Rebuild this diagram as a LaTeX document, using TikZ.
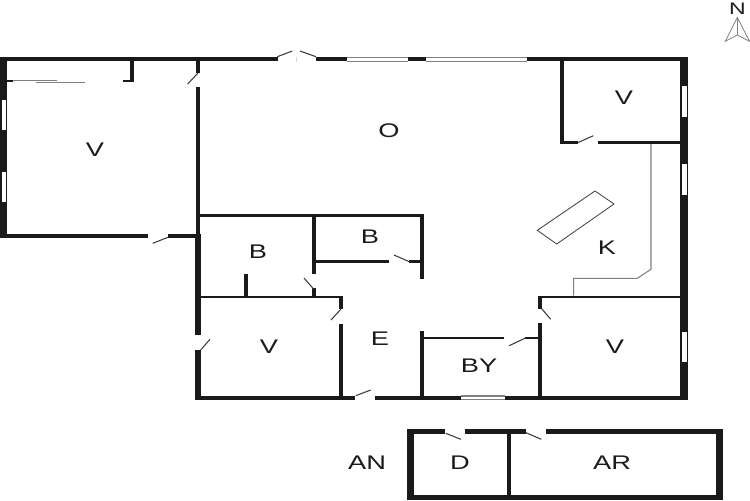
\documentclass[tikz,border=0pt]{standalone}
\usepackage{fontspec}
\setmainfont[FakeStretch=1.38]{Liberation Sans}

\tikzset{every picture/.style={line width=0.75pt}}
\tikzset{wall/.style={fill=wallblack,draw=none}}
\tikzset{pane/.style={fill=white,draw=none}}
\tikzset{swing/.style={draw=wallblack!85!white,line width=0.8pt}}
\tikzset{fixture/.style={draw=black!50,line width=0.8pt}}
\tikzset{roomlabel/.style={inner sep=0.75pt,font=\fontsize{14.8}{15}\selectfont,text=wallblack}}
\definecolor{wallblack}{HTML}{1A1A1A}

\begin{document}
\begin{tikzpicture}[x=0.75pt,y=0.75pt,yscale=-1,xscale=1]

\useasboundingbox (0,0) rectangle (750,500);

% outer walls
\fill [wall] (0,57) rectangle (277.5,61.3);
\fill [wall] (316,57) rectangle (687.7,61.3);
\fill [wall] (0,57) rectangle (7.3,238);
\fill [wall] (680,57) rectangle (687.7,400);
\fill [wall] (7,233.6) rectangle (148,238);
\fill [wall] (168,233.6) rectangle (196,238);
\fill [wall] (195.7,57) rectangle (200,73);
\fill [wall] (195.7,87.3) rectangle (200,234);
\fill [wall] (195,233.6) rectangle (201,335.3);
\fill [wall] (195,350) rectangle (201,400);
\fill [wall] (195,395.7) rectangle (355,400);
\fill [wall] (375,395.7) rectangle (687.7,400);

% inner walls
\fill [wall] (130,61) rectangle (134,82);
\fill [wall] (122.7,79.5) rectangle (134,82);
\fill [wall] (7,79.5) rectangle (13,82);
\fill [wall] (560,61) rectangle (564,144);
\fill [wall] (560,141.3) rectangle (577.7,144);
\fill [wall] (597.7,141.3) rectangle (680,144);
\fill [wall] (200,214) rectangle (424,216.7);
\fill [wall] (420,214) rectangle (424,279.3);
\fill [wall] (312,216) rectangle (316,274);
\fill [wall] (312,288.3) rectangle (316,296);
\fill [wall] (316,260.3) rectangle (389.3,263);
\fill [wall] (409.3,260.3) rectangle (420,263);
\fill [wall] (201,295.7) rectangle (343,298.3);
\fill [wall] (244,274.3) rectangle (248,296);
\fill [wall] (339,296) rectangle (343,309.3);
\fill [wall] (339,323.7) rectangle (343,397);
\fill [wall] (420,330.7) rectangle (424,397);
\fill [wall] (424,336.7) rectangle (504.3,339.3);
\fill [wall] (525,336.7) rectangle (540,339.3);
\fill [wall] (538.3,296) rectangle (542.3,308.7);
\fill [wall] (538.3,323.3) rectangle (542.3,397);
\fill [wall] (538.3,295.7) rectangle (680,298.3);

% annex
\fill [wall] (407.3,429) rectangle (445.3,433.7);
\fill [wall] (465.3,429) rectangle (526,433.7);
\fill [wall] (545.7,429) rectangle (723.3,433.7);
\fill [wall] (407.3,495) rectangle (723.3,500);
\fill [wall] (407.3,429) rectangle (414,500);
\fill [wall] (715.7,429) rectangle (723.3,500);
\fill [wall] (507.3,430) rectangle (511,496);

% windows
\fill [pane] (1.5,100) rectangle (6,130);
\fill [pane] (1.5,172) rectangle (6,202);
\fill [pane] (682.3,86) rectangle (686.7,116.7);
\fill [pane] (682.3,164.3) rectangle (686.7,195);
\fill [pane] (682.3,331.7) rectangle (686.7,361.7);
\fill [pane] (347.3,57) rectangle (408.3,61.3);
\fill [pane] (425.7,57) rectangle (526.7,61.3);
\fill [pane] (461,395.7) rectangle (505,400);
\draw [fixture] (347.3,57.2) -- (408.3,57.2);
\draw [fixture] (347.3,61.1) -- (408.3,61.1);
\draw [fixture] (425.7,57.2) -- (526.7,57.2);
\draw [fixture] (425.7,61.1) -- (526.7,61.1);
\draw [fixture] (461,396) -- (505,396);
\draw [fixture] (461,399.8) -- (505,399.8);

% doors
\draw [swing] (277.3,56.7) -- (292.3,51);
\draw [swing] (316,56.7) -- (300,51);
\draw [black!15,line width=0.4pt] (296.7,57) -- (296.7,62);
\draw [swing] (187.7,84) -- (198,73);
\draw [swing] (152.7,243.3) -- (168,237.3);
\draw [swing] (577.7,142.7) -- (593.3,135.7);
\draw [swing] (394,255) -- (409.3,261.7);
\draw [swing] (304,278) -- (313.3,288.7);
\draw [swing] (331,320) -- (340.7,309.3);
\draw [swing] (200.7,350) -- (210,339.3);
\draw [swing] (355.7,395.7) -- (370.7,390);
\draw [swing] (509,345.7) -- (525,338.3);
\draw [swing] (550.7,319.3) -- (541.7,308.7);
\draw [swing] (445.7,433.3) -- (461,439.3);
\draw [swing] (526,432.7) -- (541.3,439.3);

% sliding door, counter, island
\draw [fixture] (13,80.3) -- (57,80.3);
\draw [fixture] (36,82.3) -- (85,82.3);
\draw [fixture] (651,144) -- (651,269.3) -- (637.3,278.3) -- (573.7,278.3) -- (573.7,295.7);
\draw [swing,line width=0.6pt] (595,191) -- (614,204) -- (556.7,244) -- (537.3,230.3) -- cycle;

% north arrow
\draw [fixture,line width=0.6pt] (737.3,17.3) -- (725.3,41.3) -- (737.3,35) -- (749.5,41.3) -- cycle;
\draw [fixture,line width=0.6pt] (737.3,17.3) -- (737.3,35);

\draw (737.3,8.3) node [roomlabel,font=\fontsize{12.5}{13}\selectfont] (north) {N};
\draw (95,150) node [roomlabel] (vwest) {V};
\draw (389,131) node [roomlabel] (open) {O};
\draw (624,98) node [roomlabel] (veast) {V};
\draw (258,252) node [roomlabel] (bwest) {B};
\draw (370,237) node [roomlabel] (beast) {B};
\draw (607,248) node [roomlabel] (kitchen) {K};
\draw (380,339) node [roomlabel] (entry) {E};
\draw (269,347) node [roomlabel] (vsouth) {V};
\draw (479,366) node [roomlabel] (bath) {BY};
\draw (615,347) node [roomlabel] (vcorner) {V};
\draw (367,463) node [roomlabel] (annex) {AN};
\draw (460,463) node [roomlabel] (depot) {D};
\draw (612,463) node [roomlabel] (arbejd) {AR};

\end{tikzpicture}
\end{document}
